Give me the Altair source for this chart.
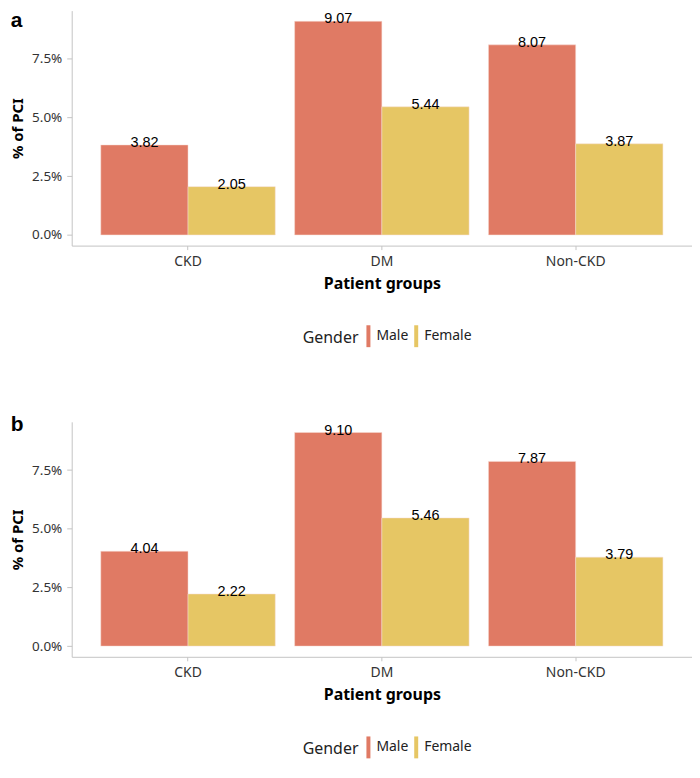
import altair as alt
import pandas as pd

groups = ["CKD", "DM", "Non-CKD"]
genders = ["Male", "Female"]
pct_a_male = [3.82, 9.07, 8.07]
pct_a_female = [2.05, 5.44, 3.87]
pct_b_male = [4.04, 9.10, 7.87]
pct_b_female = [2.22, 5.46, 3.79]
y_ticks = [0, 2.5, 5, 7.5]
colors = ["#E07A64", "#E6C664"]

W = 623
H = 236


def make_df(male, female):
    rows = []
    for g, m, f in zip(groups, male, female):
        rows.append({"group": g, "gender": "Male", "pct": m})
        rows.append({"group": g, "gender": "Female", "pct": f})
    return pd.DataFrame(rows)


def panel(df, label, title_offset):
    ymax = float(df["pct"].max())
    pad = ymax * 0.05
    x = alt.X(
        "group:N",
        sort=groups,
        title="Patient groups",
        scale=alt.Scale(paddingInner=0.1, paddingOuter=0.15),
        axis=alt.Axis(labelAngle=0, tickSize=4, labelPadding=5, titlePadding=7),
    )
    xo = alt.XOffset(
        "gender:N", sort=genders, scale=alt.Scale(paddingInner=0, paddingOuter=0)
    )
    y = alt.Y(
        "pct:Q",
        title="% of PCI",
        scale=alt.Scale(domain=[-pad, ymax + pad], nice=False, zero=False),
        axis=alt.Axis(
            values=y_ticks,
            labelExpr="format(datum.value, '.1f') + '%'",
            grid=False,
            tickSize=5,
            labelPadding=5,
            labelFontSize=13.5,
            titlePadding=6,
            titleFontSize=15,
        ),
    )
    color = alt.Color(
        "gender:N",
        sort=genders,
        scale=alt.Scale(domain=genders, range=colors),
        legend=alt.Legend(
            title="Gender",
            orient="none",
            direction="horizontal",
            titleOrient="left",
            legendX=232,
            legendY=H + 84,
            symbolType="M-1,-5.5L1,-5.5L1,5.5L-1,5.5Z",
            symbolSize=16,
            symbolStrokeWidth=0,
            symbolOpacity=1,
            labelFontSize=14,
            labelFont="Noto Sans",
            labelColor="#222222",
            titleFontSize=16,
            titleFont="Noto Sans",
            titleFontWeight="normal",
            titleColor="#222222",
            titlePadding=2,
            labelOffset=1,
            columnPadding=0,
        ),
    )
    base = alt.Chart(df).encode(x=x, xOffset=xo)
    bars = base.mark_bar(stroke="#f6ddd5", strokeWidth=0.5).encode(
        y=y, y2=alt.datum(0), color=color
    )
    text = base.mark_text(
        font="Liberation Sans", fontSize=14.5, color="black", baseline="alphabetic", dy=2
    ).encode(y=y, text=alt.Text("pct:Q", format=".2f"))
    return alt.layer(bars, text).properties(
        width=W,
        height=H,
        title=alt.TitleParams(
            label,
            anchor="start",
            frame="bounds",
            font="Liberation Sans",
            fontSize=21,
            fontWeight="bold",
            color="black",
            offset=title_offset,
        ),
    )


chart = (
    alt.vconcat(
        panel(make_df(pct_a_male, pct_a_female), "a", -20),
        panel(make_df(pct_b_male, pct_b_female), "b", -13),
        spacing=67,
    )
    .resolve_legend(color="independent")
    .properties(padding={"left": 2, "top": 0, "right": 0, "bottom": 0})
    .configure_view(stroke=None)
    .configure_axis(
        domainColor="#c4c4c4",
        tickColor="#c4c4c4",
        labelColor="#333333",
        labelFont="Noto Sans",
        labelFontSize=14,
        titleFont="Noto Sans",
        titleFontSize=16,
        titleFontWeight="bold",
        titleColor="black",
    )
    .configure_title(anchor="start")
)

chart.save("out.html", embed_options={"renderer": "svg", "actions": False})
